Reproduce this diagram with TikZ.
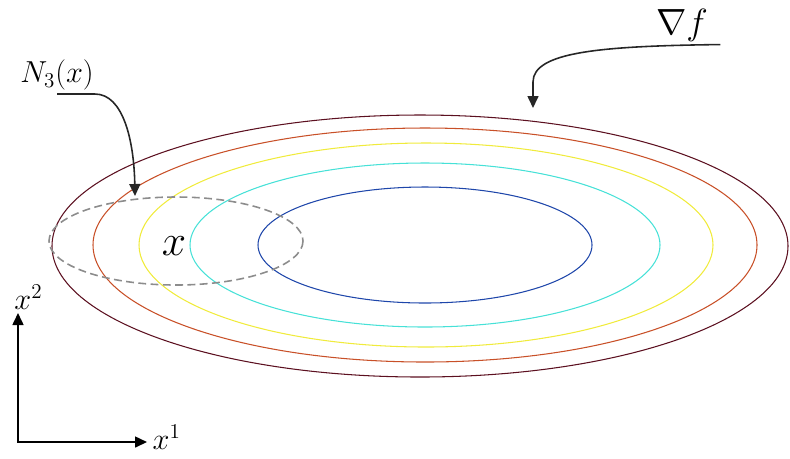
\documentclass[tikz,border=0pt]{standalone}
\usepackage{amsmath, amssymb}
\usepackage{xcolor}
\usetikzlibrary{arrows.meta, positioning}

\definecolor{lvlA}{RGB}{92,16,32}
\definecolor{lvlB}{RGB}{200,80,40}
\definecolor{lvlC}{RGB}{240,235,60}
\definecolor{lvlD}{RGB}{70,225,215}
\definecolor{lvlE}{RGB}{30,70,170}
\definecolor{nbhdgray}{RGB}{140,140,140}

\begin{document}
\begin{tikzpicture}[x=0.02cm, y=-0.02cm, >={Triangle[length=2.4mm, width=2.2mm]},
    level/.style={line width=0.6pt},
    pointer/.style={->, line width=0.9pt, black!85},
    lbl/.style={inner sep=2pt}]
    \useasboundingbox (0,0) rectangle (790,458);

    % level sets of f
    \draw[level, lvlA] (420,246) ellipse [x radius=368, y radius=131];
    \draw[level, lvlB] (425,245) ellipse [x radius=332, y radius=117];
    \draw[level, lvlC] (426,245) ellipse [x radius=287, y radius=102];
    \draw[level, lvlD] (425,245) ellipse [x radius=235, y radius=82];
    \draw[level, lvlE] (425,245) ellipse [x radius=167, y radius=58];

    % neighbourhood of x
    \draw[nbhdgray, line width=0.9pt, dash pattern=on 4.5pt off 2.5pt]
        (176,241) ellipse [x radius=127, y radius=44];
    \node (pt) at (174,246) {\fontsize{26}{30}\selectfont $x$};

    % labels with pointers
    \node[lbl] (nbhd) at (57,75) {\fontsize{17}{20}\selectfont $N_3(x)$};
    \coordinate (nbhdtip) at (135,196);
    \draw[pointer] (nbhd.south) -- ++(38,0) .. controls +(28,0) and (134,140) .. (nbhdtip);

    \node[inner sep=0pt] (grad) at (682,25) {\fontsize{20}{24}\selectfont $\nabla f$};
    \coordinate (gradtip) at (533,108);
    \draw[pointer] (grad.south east) ++(12,3) .. controls (600,46) and (533,52) .. (533,82) -- (gradtip);

    % axes
    \coordinate (origin) at (18,442);
    \coordinate (xend) at (147,442);
    \coordinate (yend) at (18,313);
    \draw[<->, line width=0.9pt] (yend) -- (origin) -- (xend);
    \node[lbl, right=1pt of xend, yshift=3pt] (xone) {\LARGE $x^1$};
    \node[lbl, above=0pt of yend, xshift=6pt] (xtwo) {\LARGE $x^2$};
\end{tikzpicture}
\end{document}
